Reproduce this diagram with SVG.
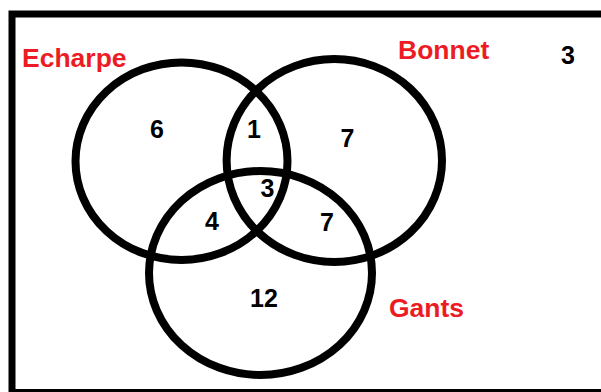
<svg xmlns="http://www.w3.org/2000/svg" width="601" height="392" viewBox="0 0 601 392">
  <style>
    .set { fill: none; stroke: #000; stroke-width: 8; }
    .lbl { font-family: "Liberation Sans", Arial, sans-serif; font-weight: bold; font-size: 26.5px; fill: #ED1C24; }
    .num { font-family: "Liberation Sans", Arial, sans-serif; font-weight: bold; font-size: 25px; fill: #000; text-anchor: middle; }
  </style>
  <rect width="601" height="392" fill="#fff"/>
  <rect id="universe" x="12" y="14" width="610" height="378.5" fill="none" stroke="#000" stroke-width="7"/>
  <g id="echarpe">
    <ellipse class="set" cx="181.5" cy="161.2" rx="106" ry="98.8"/>
    <text class="lbl" x="22" y="67">Echarpe</text>
  </g>
  <g id="bonnet">
    <ellipse class="set" cx="334.3" cy="160.5" rx="107.7" ry="101.5"/>
    <text class="lbl" x="398" y="59">Bonnet</text>
  </g>
  <g id="gants">
    <ellipse class="set" cx="260.5" cy="273" rx="111.5" ry="102"/>
    <text class="lbl" x="389" y="317">Gants</text>
  </g>
  <g id="counts">
    <text class="num" x="157" y="138">6</text>
    <text class="num" x="254" y="138">1</text>
    <text class="num" x="347.5" y="146.5">7</text>
    <text class="num" x="267.5" y="197">3</text>
    <text class="num" x="212" y="230">4</text>
    <text class="num" x="327" y="231">7</text>
    <text class="num" x="264" y="307">12</text>
    <text class="num" x="568" y="64">3</text>
  </g>
  <g id="connectors"/>
</svg>
